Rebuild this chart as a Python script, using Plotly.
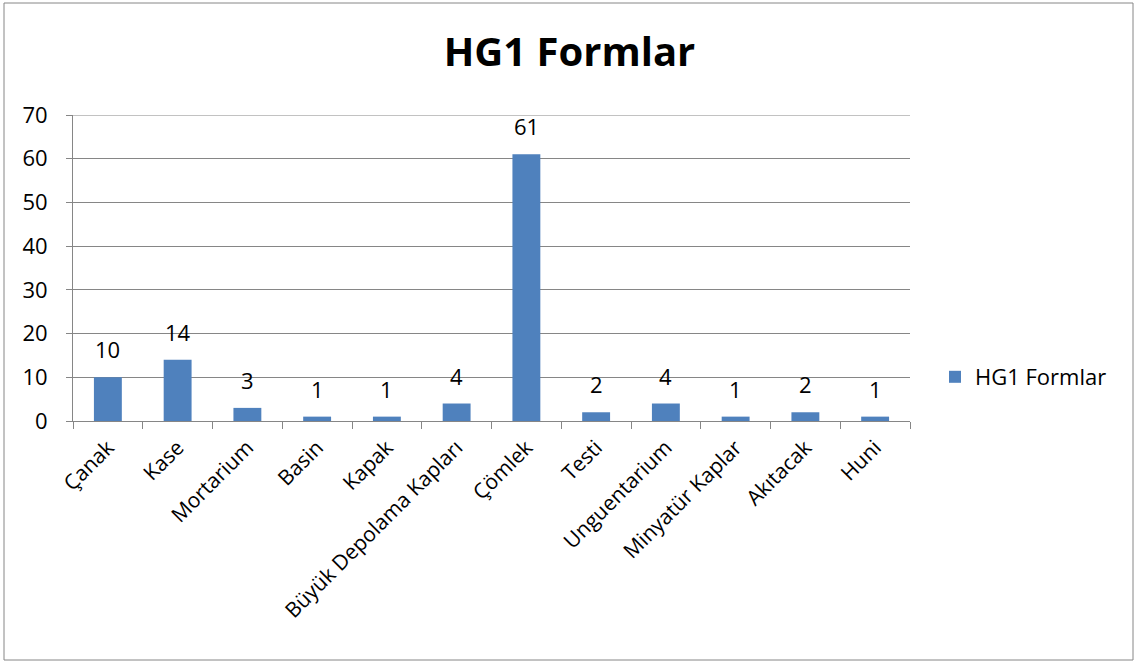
import plotly.graph_objects as go

# kategoriler ve değerler
categories = ["Çanak", "Kase", "Mortarium", "Basin", "Kapak", "Büyük Depolama Kapları",
              "Çömlek", "Testi", "Unguentarium", "Minyatür Kaplar", "Akıtacak", "Huni"]
values = [10, 14, 3, 1, 1, 4, 61, 2, 4, 1, 2, 1]
series_name = "HG1 Formlar"
y_ticks = [0, 10, 20, 30, 40, 50, 60, 70]

FONT = "Open Sans, Noto Sans, sans-serif"
BAR = "#4F81BD"
AXIS = "#868686"

fig = go.Figure()
fig.add_trace(go.Bar(
    x=categories,
    y=values,
    name=series_name,
    marker=dict(color=BAR, line=dict(width=0)),
    showlegend=True,
    hovertemplate="%{x}: %{y}<extra></extra>",
))

# veri etiketleri - çubukların biraz üstünde
for c, v in zip(categories, values):
    fig.add_annotation(x=c, y=v, text=str(v), showarrow=False,
                       yanchor="bottom", yshift=11,
                       font=dict(size=22, color="black", family=FONT))

# Dış çerçeve (paper koordinatları)
L, R, T, B = 73, 910, 115, 421
W, H = 1139, 666
pw, ph = R - L, B - T
fig.add_shape(type="rect", xref="paper", yref="paper",
              x0=(4 - L) / pw, x1=(1133 - L) / pw,
              y0=(B - 660) / ph, y1=(B - 3) / ph,
              line=dict(color=AXIS, width=1), layer="below")
# en üstteki ızgara çizgisi (plotly eksen sınırında çizmiyor)
fig.add_shape(type="line", xref="paper", yref="y", x0=0, x1=1,
              y0=y_ticks[-1], y1=y_ticks[-1],
              line=dict(color=AXIS, width=1), layer="below")

fig.update_layout(
    width=W, height=H,
    margin=dict(l=L, r=W - R, t=T, b=H - B),
    paper_bgcolor="white",
    plot_bgcolor="white",
    bargap=0.6,
    font=dict(family=FONT, size=20, color="black"),
    title=dict(text="<b>HG1 Formlar</b>", x=0.5, xref="container", xanchor="center",
               y=1 - 52 / H, yref="container", yanchor="middle",
               font=dict(size=40, family=FONT, color="black")),
    legend=dict(x=(935 - L) / pw, y=(B - 377) / ph, xanchor="left", yanchor="middle",
                font=dict(size=22, family=FONT), bgcolor="rgba(0,0,0,0)"),
    xaxis=dict(
        tickangle=-45,
        tickson="boundaries",
        ticks="outside", ticklen=7, tickcolor=AXIS,
        showline=True, linecolor=AXIS, linewidth=1,
        showgrid=False,
        ticklabelstandoff=5,
        tickfont=dict(size=21, family=FONT),
    ),
    yaxis=dict(
        range=[0, 70],
        tickvals=y_ticks,
        ticks="outside", ticklen=6, tickcolor=AXIS,
        showline=True, linecolor=AXIS, linewidth=1,
        showgrid=True, gridcolor=AXIS, gridwidth=1,
        zeroline=False,
        ticklabelstandoff=14,
        tickfont=dict(size=22, family=FONT),
    ),
)

# sayfa kenar boşluğunu kaldır, grafik tam pencereye otursun
fig.write_html("out.html", config={"displayModeBar": False},
               post_script="document.body.style.margin='0';")
